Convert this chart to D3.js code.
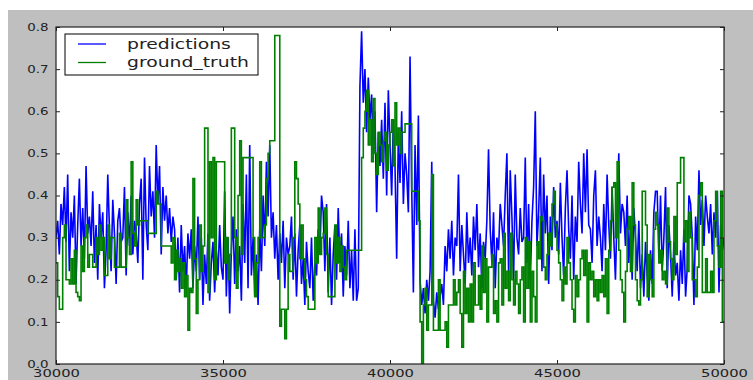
<!DOCTYPE html>
<html lang="en">
<head>
<meta charset="UTF-8">
<title>predictions vs ground_truth</title>
<script src="https://cdnjs.cloudflare.com/ajax/libs/d3/7.8.5/d3.min.js"></script>
<style>
body { margin: 0; background: #fff; }
svg text { font-family: "DejaVu Sans", sans-serif; fill: #222; }
</style>
</head>
<body>
<div id="output"></div>
<script>

// sample spacing along x (one value every 50 units from 30000)
var xStart = 30000;
var xStep = 50;

var seriesNames = ["predictions", "ground_truth"];
var seriesColors = ["#0000ff", "#008000"];

var xTicks = [30000, 35000, 40000, 45000, 50000];
var yTicks = [0.0, 0.1, 0.2, 0.3, 0.4, 0.5, 0.6, 0.7, 0.8];

var predictions = [
    0.30,0.34,0.26,0.38,0.33,0.42,0.29,0.45,0.22,0.36,0.30,0.40,0.19,0.33,0.44,0.28,0.37,0.25,0.47,0.31,
    0.35,0.28,0.41,0.24,0.33,0.20,0.38,0.30,0.36,0.18,0.27,0.45,0.32,0.22,0.39,0.31,0.19,0.34,0.37,0.29,
    0.30,0.42,0.21,0.36,0.28,0.40,0.26,0.34,0.31,0.24,0.38,0.44,0.20,0.49,0.33,0.27,0.47,0.35,0.41,0.30,
    0.52,0.38,0.47,0.26,0.42,0.34,0.40,0.31,0.37,0.29,0.35,0.32,0.20,0.30,0.17,0.33,0.22,0.28,0.18,0.31,
    0.25,0.32,0.18,0.28,0.22,0.35,0.20,0.30,0.14,0.26,0.19,0.31,0.15,0.24,0.29,0.17,0.27,0.21,0.33,0.23,
    0.20,0.41,0.16,0.30,0.12,0.27,0.35,0.19,0.32,0.22,0.28,0.15,0.38,0.24,0.45,0.18,0.52,0.21,0.30,0.16,
    0.26,0.14,0.32,0.22,0.40,0.28,0.48,0.35,0.52,0.30,0.36,0.25,0.33,0.20,0.31,0.24,0.34,0.18,0.30,0.26,
    0.28,0.35,0.20,0.31,0.16,0.27,0.33,0.19,0.25,0.14,0.29,0.22,0.18,0.30,0.15,0.24,0.21,0.32,0.26,0.40,
    0.36,0.22,0.38,0.17,0.30,0.14,0.26,0.33,0.20,0.37,0.24,0.31,0.16,0.28,0.21,0.34,0.18,0.27,0.15,0.32,
    0.15,0.18,0.66,0.79,0.62,0.70,0.55,0.68,0.58,0.64,0.50,0.60,0.36,0.55,0.47,0.58,0.44,0.62,0.40,0.65,
    0.52,0.40,0.58,0.47,0.25,0.55,0.43,0.60,0.38,0.50,0.45,0.36,0.73,0.42,0.17,0.52,0.33,0.59,0.20,0.14,
    0.18,0.12,0.20,0.15,0.22,0.48,0.15,0.11,0.17,0.13,0.16,0.19,0.14,0.28,0.22,0.32,0.25,0.34,0.21,0.30,
    0.28,0.45,0.22,0.33,0.26,0.19,0.36,0.24,0.30,0.21,0.35,0.27,0.38,0.23,0.31,0.18,0.29,0.25,0.34,0.51,
    0.32,0.24,0.36,0.18,0.30,0.27,0.38,0.33,0.28,0.40,0.50,0.22,0.46,0.35,0.20,0.45,0.30,0.26,0.37,0.29,
    0.30,0.49,0.24,0.38,0.20,0.34,0.42,0.60,0.28,0.36,0.49,0.22,0.45,0.31,0.40,0.19,0.35,0.27,0.42,0.30,
    0.34,0.26,0.43,0.30,0.21,0.37,0.46,0.32,0.25,0.40,0.20,0.35,0.29,0.48,0.38,0.31,0.50,0.36,0.51,0.33,
    0.32,0.24,0.40,0.46,0.28,0.35,0.30,0.22,0.38,0.27,0.45,0.33,0.25,0.42,0.30,0.20,0.36,0.50,0.31,0.38,
    0.36,0.28,0.40,0.24,0.33,0.20,0.37,0.30,0.22,0.34,0.18,0.26,0.16,0.29,0.21,0.15,0.27,0.19,0.36,0.41,
    0.41,0.25,0.40,0.22,0.30,0.42,0.18,0.33,0.26,0.16,0.29,0.21,0.24,0.15,0.27,0.19,0.32,0.16,0.23,0.40,
    0.38,0.30,0.14,0.35,0.27,0.46,0.33,0.39,0.28,0.40,0.35,0.31,0.38,0.26,0.36,0.30,0.41,0.17,0.33,0.27,0.30
];

var groundTruth = [
    0.24,0.16,0.13,0.13,0.30,0.33,0.20,0.20,0.19,0.25,0.19,0.27,0.17,0.16,0.15,0.28,0.22,0.30,0.33,0.23,
    0.26,0.26,0.23,0.23,0.30,0.26,0.33,0.27,0.30,0.21,0.21,0.33,0.25,0.30,0.30,0.23,0.23,0.23,0.31,0.23,
    0.23,0.23,0.39,0.30,0.26,0.48,0.31,0.28,0.39,0.33,0.34,0.34,0.34,0.34,0.34,0.31,0.31,0.31,0.31,0.31,
    0.41,0.38,0.38,0.28,0.28,0.28,0.28,0.28,0.28,0.24,0.30,0.20,0.27,0.22,0.25,0.18,0.24,0.16,0.21,0.08,
    0.18,0.17,0.44,0.25,0.12,0.20,0.33,0.22,0.28,0.56,0.56,0.17,0.48,0.30,0.49,0.20,0.48,0.48,0.48,0.48,
    0.48,0.24,0.30,0.20,0.26,0.56,0.56,0.30,0.18,0.40,0.53,0.26,0.49,0.49,0.49,0.49,0.49,0.49,0.30,0.16,
    0.24,0.30,0.48,0.30,0.30,0.33,0.44,0.50,0.53,0.53,0.53,0.78,0.78,0.78,0.09,0.13,0.13,0.06,0.13,0.26,
    0.22,0.22,0.30,0.48,0.44,0.38,0.25,0.33,0.25,0.20,0.16,0.13,0.13,0.13,0.13,0.30,0.24,0.37,0.26,0.30,
    0.31,0.37,0.26,0.16,0.16,0.16,0.16,0.33,0.24,0.30,0.22,0.28,0.23,0.20,0.27,0.27,0.27,0.27,0.27,0.27,
    0.27,0.27,0.27,0.49,0.56,0.60,0.65,0.52,0.58,0.48,0.63,0.50,0.45,0.55,0.52,0.48,0.53,0.55,0.46,0.52,
    0.55,0.58,0.47,0.62,0.52,0.56,0.50,0.55,0.55,0.57,0.57,0.57,0.57,0.41,0.41,0.41,0.41,0.34,0.10,0.00,
    0.14,0.18,0.08,0.14,0.14,0.45,0.08,0.08,0.08,0.20,0.08,0.08,0.08,0.10,0.04,0.14,0.14,0.14,0.20,0.14,
    0.17,0.20,0.12,0.04,0.22,0.12,0.18,0.10,0.19,0.10,0.24,0.14,0.14,0.21,0.13,0.28,0.17,0.25,0.10,0.23,
    0.23,0.26,0.12,0.15,0.10,0.24,0.25,0.14,0.31,0.18,0.22,0.15,0.31,0.20,0.14,0.22,0.19,0.12,0.20,0.23,
    0.10,0.30,0.18,0.29,0.10,0.22,0.16,0.10,0.29,0.25,0.35,0.34,0.23,0.20,0.26,0.31,0.28,0.38,0.41,0.33,
    0.27,0.24,0.20,0.15,0.23,0.19,0.30,0.24,0.20,0.13,0.10,0.21,0.16,0.20,0.25,0.27,0.21,0.27,0.10,0.24,
    0.20,0.22,0.16,0.20,0.15,0.20,0.17,0.21,0.16,0.25,0.12,0.27,0.34,0.42,0.43,0.30,0.48,0.27,0.20,0.17,
    0.10,0.22,0.32,0.35,0.22,0.43,0.33,0.20,0.15,0.14,0.20,0.41,0.41,0.33,0.16,0.26,0.20,0.16,0.32,0.36,
    0.33,0.24,0.27,0.20,0.22,0.19,0.37,0.29,0.25,0.20,0.35,0.26,0.43,0.43,0.49,0.49,0.29,0.34,0.22,0.36,
    0.30,0.20,0.20,0.16,0.23,0.40,0.43,0.17,0.17,0.25,0.17,0.17,0.22,0.17,0.34,0.41,0.28,0.23,0.41,0.10,0.10
];

var w = 753;
var h = 380;

// the picture is stretched sideways, so the text is too
var textStretch = 1.34;

var svg = d3.select("#output")
        .append("svg")
        .attr("width", w)
        .attr("height", h);

// figure background
svg.append("rect")
        .attr("x", 8)
        .attr("y", 10)
        .attr("width", w - 8)
        .attr("height", h - 10)
        .attr("fill", "#bfbfbf");

var plot = {left: 56, right: 724, top: 27, bottom: 364};

var xScale = d3.scaleLinear()
        .domain([30000, 50000])
        .range([plot.left, plot.right]);

var yScale = d3.scaleLinear()
        .domain([0, 0.8])
        .range([plot.bottom, plot.top]);

svg.append("rect")
        .attr("x", plot.left)
        .attr("y", plot.top)
        .attr("width", plot.right - plot.left)
        .attr("height", plot.bottom - plot.top)
        .attr("fill", "#ffffff");

svg.append("clipPath")
        .attr("id", "plotClip")
    .append("rect")
        .attr("x", plot.left)
        .attr("y", plot.top)
        .attr("width", plot.right - plot.left)
        .attr("height", plot.bottom - plot.top);

var chartLayer = svg.append("g").attr("clip-path", "url(#plotClip)");

function toPoints(values){
    return values.map(function(v, i){ return {x: xStart + i * xStep, y: v}; });
}

var predLine = d3.line()
        .x(function(d){ return xScale(d.x); })
        .y(function(d){ return yScale(d.y); });

var truthLine = d3.line()
        .curve(d3.curveStepAfter)
        .x(function(d){ return xScale(d.x); })
        .y(function(d){ return yScale(d.y); });

chartLayer.append("path")
        .datum(toPoints(predictions))
        .attr("d", predLine)
        .attr("fill", "none")
        .attr("stroke", seriesColors[0])
        .attr("stroke-width", 1.6);

chartLayer.append("path")
        .datum(toPoints(groundTruth))
        .attr("d", truthLine)
        .attr("fill", "none")
        .attr("stroke", seriesColors[1])
        .attr("stroke-width", 1.6);

// axes, ticks pointing inwards on all four sides
var xAxis = svg.append("g")
        .attr("transform", "translate(0," + plot.bottom + ")")
        .call(d3.axisBottom(xScale).tickValues(xTicks).tickFormat(d3.format("d"))
            .tickSizeInner(-4).tickSizeOuter(0).tickPadding(5));

var yAxis = svg.append("g")
        .attr("transform", "translate(" + plot.left + ",0)")
        .call(d3.axisLeft(yScale).tickValues(yTicks).tickFormat(d3.format(".1f"))
            .tickSizeInner(-4).tickSizeOuter(0).tickPadding(5.5));

svg.append("g")
        .attr("transform", "translate(0," + plot.top + ")")
        .call(d3.axisTop(xScale).tickValues(xTicks).tickFormat("")
            .tickSizeInner(-4).tickSizeOuter(0));

svg.append("g")
        .attr("transform", "translate(" + plot.right + ",0)")
        .call(d3.axisRight(yScale).tickValues(yTicks).tickFormat("")
            .tickSizeInner(-4).tickSizeOuter(0));

svg.selectAll(".domain").remove();
svg.selectAll(".tick line").attr("stroke", "#222");

xAxis.selectAll("text")
        .attr("font-size", 11)
        .attr("fill", "#222")
        .attr("transform", "scale(" + textStretch + ",1)");

yAxis.selectAll("text")
        .attr("font-size", 10)
        .attr("fill", "#222")
        .attr("transform", "scale(" + textStretch + ",1)");

// frame
svg.append("rect")
        .attr("x", plot.left)
        .attr("y", plot.top)
        .attr("width", plot.right - plot.left)
        .attr("height", plot.bottom - plot.top)
        .attr("fill", "none")
        .attr("stroke", "#222")
        .attr("stroke-width", 1.2);

// legend
var legend = svg.append("g");

legend.append("rect")
        .attr("x", 65)
        .attr("y", 34)
        .attr("width", 193)
        .attr("height", 41)
        .attr("fill", "#ffffff")
        .attr("stroke", "#000")
        .attr("stroke-width", 1);

var legendRows = legend.selectAll(".row")
        .data(seriesNames)
        .enter()
    .append("g")
        .attr("class", "row")
        .attr("transform", function(d, i){ return "translate(0," + (44 + i * 18.5) + ")"; });

legendRows.append("line")
        .attr("x1", 78)
        .attr("x2", 106)
        .attr("stroke", function(d, i){ return seriesColors[i]; })
        .attr("stroke-width", 1.3);

legendRows.append("text")
        .attr("transform", "translate(127,4.7) scale(" + textStretch + ",1)")
        .attr("font-size", 14)
        .attr("fill", "#000")
        .text(function(d){ return d; });

</script>
</body>
</html>
